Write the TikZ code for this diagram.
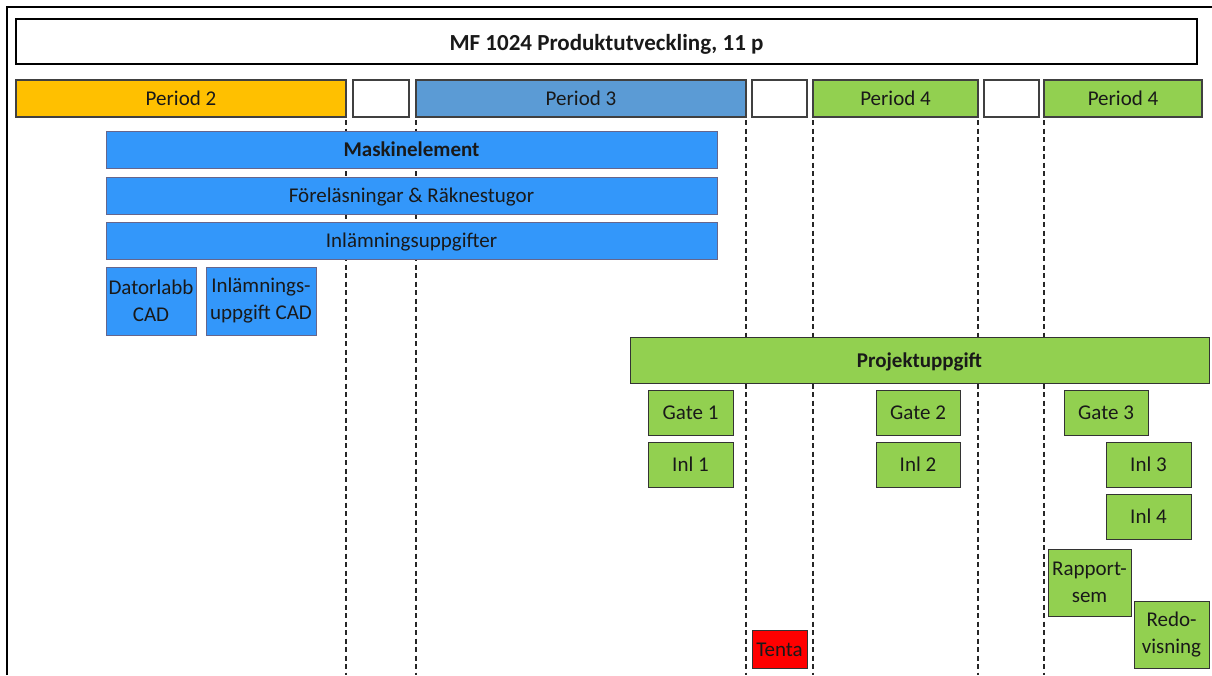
\documentclass[tikz,border=0pt]{standalone}
\usepackage{fontspec}
\setmainfont{Carlito}
\begin{document}
\begin{tikzpicture}[x=1pt,y=-1pt,
  mbox/.style={draw=black!80, line width=1pt, inner sep=0pt, outer sep=0pt, anchor=north west, align=center, text=black!90, font=\fontsize{21}{27}\selectfont},
  box/.style={mbox, text height=14pt, text depth=0pt},
  period/.style={box, draw=black!75, line width=1.2pt},
  mblue/.style={box, fill=mb, draw=black!75!blue!60},
  mbluem/.style={mbox, fill=mb, draw=black!75!blue!60},
  grn/.style={box, fill=pg},
  grnm/.style={mbox, fill=pg},
  vline/.style={black!85, dashed, dash pattern=on 5pt off 3.5pt, line width=1.1pt}
]
\definecolor{po}{HTML}{FFC000}
\definecolor{pb}{HTML}{5B9BD5}
\definecolor{pg}{HTML}{92D050}
\definecolor{mb}{HTML}{3397FA}
\definecolor{rd}{HTML}{FF0000}
\useasboundingbox (0,0) rectangle (1212,675);
\fill[white] (0,0) rectangle (1212,675);
% frame
\coordinate (fA) at (7,675);
\coordinate (fB) at (7,7);
\coordinate (fC) at (1212,7);
\draw[line width=1.6pt] (fA) -- (fB) -- (fC);
% dashed period separators
\foreach \x/\n in {346/a,416/b,746/c,813/d,978/e,1044/f}{
  \coordinate (t\n) at (\x,120);
  \coordinate (b\n) at (\x,675);
  \draw[vline] (t\n) -- (b\n);
}
% title
\node[box, draw=black, line width=1.8pt, minimum width=1181pt, minimum height=45pt, text height=18pt, font=\fontsize{23}{28}\selectfont\bfseries] (title) at (16,19) {MF 1024 Produktutveckling, 11 p};
% periods
\node[period, fill=po, minimum width=330pt, minimum height=37pt] (p2) at (16,80) {Period 2};
\node[period, fill=white, minimum width=56pt, minimum height=37pt] (w1) at (353,80) {};
\node[period, fill=pb, minimum width=330pt, minimum height=37pt] (p3) at (416,80) {Period 3};
\node[period, fill=white, minimum width=55pt, minimum height=37pt] (w2) at (752,80) {};
\node[period, fill=pg, minimum width=165pt, minimum height=37pt] (p4a) at (813,80) {Period 4};
\node[period, fill=white, minimum width=55pt, minimum height=37pt] (w3) at (984,80) {};
\node[period, fill=pg, minimum width=158pt, minimum height=37pt] (p4b) at (1044,80) {Period 4};
% Maskinelement
\node[mblue, minimum width=611pt, minimum height=37pt, font=\fontsize{21}{27}\selectfont\bfseries] (me) at (106,131) {Maskinelement};
\node[mblue, minimum width=611pt, minimum height=37pt] (fr) at (106,177) {Föreläsningar \& Räknestugor};
\node[mblue, minimum width=611pt, minimum height=37pt] (iu) at (106,222) {Inlämningsuppgifter};
\node[mbluem, minimum width=90pt, minimum height=68pt] (dl) at (106,267) {Datorlabb\\CAD};
\node[mbluem, minimum width=110pt, minimum height=68pt] (ic) at (206,267) {Inlämnings-\\uppgift CAD};
% Projekt
\node[grn, minimum width=579pt, minimum height=46pt, font=\fontsize{21}{27}\selectfont\bfseries] (pu) at (630,337) {Projektuppgift};
\node[grn, minimum width=85pt, minimum height=45pt] (g1) at (648,390) {Gate 1};
\node[grn, minimum width=85pt, minimum height=45pt] (i1) at (648,442) {Inl 1};
\node[grn, minimum width=84pt, minimum height=45pt] (g2) at (876,390) {Gate 2};
\node[grn, minimum width=84pt, minimum height=45pt] (i2) at (876,442) {Inl 2};
\node[grn, minimum width=84pt, minimum height=45pt] (g3) at (1064,390) {Gate 3};
\node[grn, minimum width=85pt, minimum height=45pt] (i3) at (1106,442) {Inl 3};
\node[grn, minimum width=85pt, minimum height=45pt] (i4) at (1106,494) {Inl 4};
\node[grnm, minimum width=83pt, minimum height=67pt] (rs) at (1048,549) {Rapport-\\sem};
\node[grnm, minimum width=75pt, minimum height=67pt] (rv) at (1134,601) {Redo-\\visning};
\node[box, fill=rd, minimum width=55pt, minimum height=38pt] (te) at (752,630) {Tenta};
\end{tikzpicture}
\end{document}
